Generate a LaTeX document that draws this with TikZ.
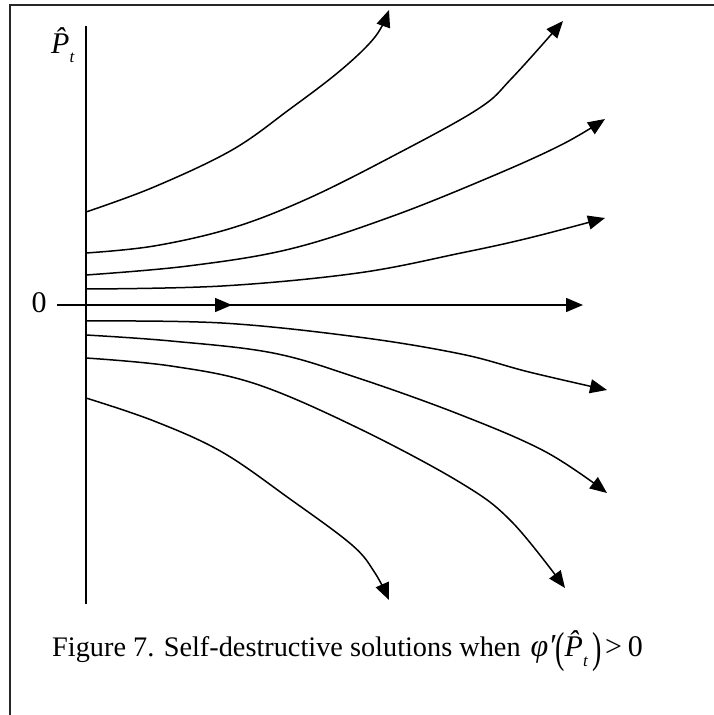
\documentclass[tikz,border=0pt]{standalone}
\usepackage{fontspec}
\setmainfont{Liberation Serif}
\usetikzlibrary{arrows.meta}
\newcommand{\fsz}[1]{\fontsize{#1}{#1}\selectfont}
\tikzset{
  flow/.style={line width=1.5pt,-{Triangle[length=17pt,width=14pt]}},
  axisline/.style={line width=1.5pt},
  framel/.style={line width=1.8pt,black!85},
  curve/.style={flow,smooth,tension=0.6},
}
\begin{document}
\begin{tikzpicture}[x=1pt,y=-1pt]
\useasboundingbox (0,0) rectangle (714,715);
% frame
\coordinate (ftl) at (10,5);
\coordinate (ftr) at (714,5);
\coordinate (fbl) at (10,715);
\draw[framel] (ftr) -- (ftl) -- (fbl);
% axes
\coordinate (vt) at (86,26);
\coordinate (vb) at (86,604);
\draw[axisline] (vt) -- (vb);
\coordinate (zl) at (57,305);
\coordinate (zm) at (232,305);
\coordinate (ze) at (583,305);
\draw[flow] (zl) -- (ze);
\draw[flow] (zl) -- (zm);
\node[font=\fsz{30}] (zero) at (39,303) {0};
\node[anchor=base west,inner sep=0pt,font=\fsz{30}] (plab) at (51,53) {\itshape\^{P}\raisebox{-9pt}{\fsz{17}\itshape t}};
% upper curves
\coordinate (s1) at (86,212); \coordinate (e1) at (389,10);
\coordinate (s2) at (86,253); \coordinate (e2) at (563,21);
\coordinate (s3) at (86,275); \coordinate (e3) at (605,119);
\coordinate (s4) at (86,289); \coordinate (e4) at (605,218);
\draw[curve] plot coordinates {(s1) (154,187) (232,150) (290,109) (341,70) (375,37) (e1)};
\draw[curve] plot coordinates {(s2) (154,246) (232,228) (307,199) (393,156) (478,109) (512,78) (e2)};
\draw[curve] plot coordinates {(s3) (188,266) (290,249) (393,216) (495,175) (563,144) (e3)};
\draw[curve] plot coordinates {(s4) (222,286) (358,273) (461,253) (529,238) (e4)};
% lower curves
\coordinate (s5) at (86,321); \coordinate (e5) at (607,390);
\coordinate (s6) at (86,335); \coordinate (e6) at (607,493);
\coordinate (s7) at (86,358); \coordinate (e7) at (565,588);
\coordinate (s8) at (86,398); \coordinate (e8) at (389,600);
\draw[curve] plot coordinates {(s5) (222,323) (358,337) (461,354) (529,372) (e5)};
\draw[curve] plot coordinates {(s6) (171,341) (273,353) (358,378) (461,415) (546,452) (e6)};
\draw[curve] plot coordinates {(s7) (171,366) (256,384) (358,428) (461,483) (512,522) (e7)};
\draw[curve] plot coordinates {(s8) (154,421) (222,452) (290,499) (352,545) (375,573) (e8)};
% caption
\node[anchor=base west,inner sep=0pt,font=\fsz{28.3}] (cap) at (52,656)
 {Figure 7. Self-destructive solutions when\hspace{10pt}{\fsz{32}\itshape φ′}\raisebox{-6pt}{\scalebox{1}[1.55]{\fsz{28}(}}{\fsz{30}\itshape\^{P}}\raisebox{-10pt}{\fsz{17}\itshape t}\hspace{5pt}\raisebox{-6pt}{\scalebox{1}[1.55]{\fsz{28})}}\hspace{3pt}{\fsz{30}>\hspace{6pt}0}};
\end{tikzpicture}
\end{document}
